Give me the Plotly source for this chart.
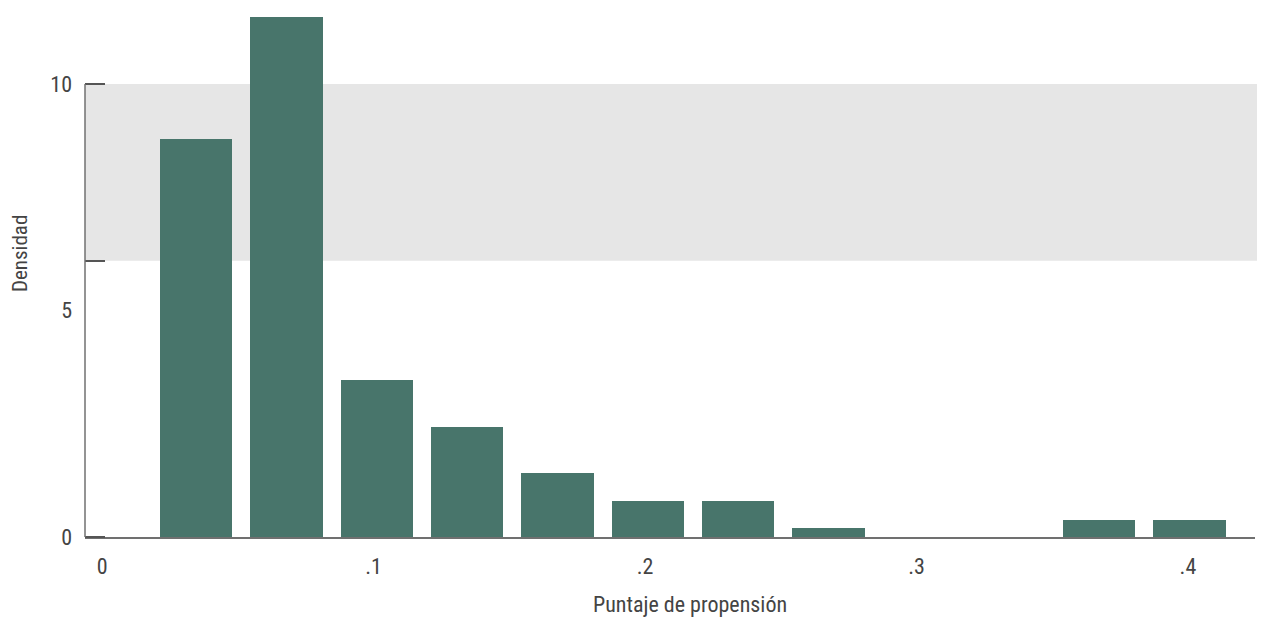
import plotly.graph_objects as go

# Data
bin_centers = [0.0346, 0.0679, 0.1012, 0.1344, 0.1677, 0.2010, 0.2342, 0.2675, 0.3008, 0.3340, 0.3673, 0.4006]
density = [8.79, 11.47, 3.46, 2.43, 1.42, 0.80, 0.80, 0.19, 0.0, 0.0, 0.385, 0.385]
x_tickvals = [0, 0.1, 0.2, 0.3, 0.4]
x_ticktext = ["0", ".1", ".2", ".3", ".4"]
y_tickvals = [0, 5, 10]
y_ticktext = ["0", "5", "10"]
band_low, band_high = 6.1, 10
y_marks = [0, 6.1, 10]

FONT = "Liberation Sans Narrow, Roboto Condensed, Roboto, sans-serif"
BAR = "#48756b"
AXIS = "#707070"
TEXT = "#444444"

# page body has an 8px default margin; plot area targets 85..1255 x 16..537
fig = go.Figure()
fig.add_trace(go.Bar(
    x=bin_centers, y=density, width=0.0267,
    marker=dict(color=BAR, line=dict(width=0)),
    showlegend=False,
))

fig.add_shape(type="rect", xref="paper", yref="y", x0=0, x1=1.01,
              y0=band_low, y1=band_high, fillcolor="#e6e6e6",
              line=dict(width=0), layer="below")
fig.add_shape(type="line", xref="paper", yref="y", x0=0, x1=0,
              y0=0, y1=10, line=dict(color=AXIS, width=1.5), layer="above")

fig.add_annotation(text="Puntaje de propensión", xref="paper", yref="paper",
                   x=(690 - 85) / 1170, y=-(604 - 537) / 521,
                   xanchor="center", yanchor="middle", showarrow=False,
                   font=dict(size=22, color=TEXT))
fig.add_annotation(text="Densidad", xref="paper", yref="paper",
                   x=(20 - 85) / 1170, y=(537 - 254) / 521, textangle=-90,
                   xanchor="center", yanchor="middle", showarrow=False,
                   font=dict(size=21, color=TEXT))

fig.update_layout(
    width=1257, height=610,
    margin=dict(l=77, r=10, t=8, b=81),
    plot_bgcolor="white", paper_bgcolor="white",
    font=dict(family=FONT, size=22, color=TEXT),
    bargap=0,
    xaxis=dict(
        range=[-0.0063, 0.4247], automargin=False,
        tickmode="array", tickvals=x_tickvals, ticktext=x_ticktext,
        ticks="", showgrid=False, zeroline=False,
        showline=True, linecolor=AXIS, linewidth=1.5,
        ticklabelstandoff=9,
    ),
    yaxis=dict(
        range=[0, 11.5], automargin=False,
        tickmode="array", tickvals=y_tickvals, ticktext=y_ticktext,
        ticks="", showgrid=False, zeroline=False, showline=False,
        ticklabelstandoff=12,
        minor=dict(tickmode="array", tickvals=y_marks, ticks="inside",
                   ticklen=20, tickwidth=1.5, tickcolor="#555555", showgrid=False),
    ),
)

fig.write_html("out.html")
